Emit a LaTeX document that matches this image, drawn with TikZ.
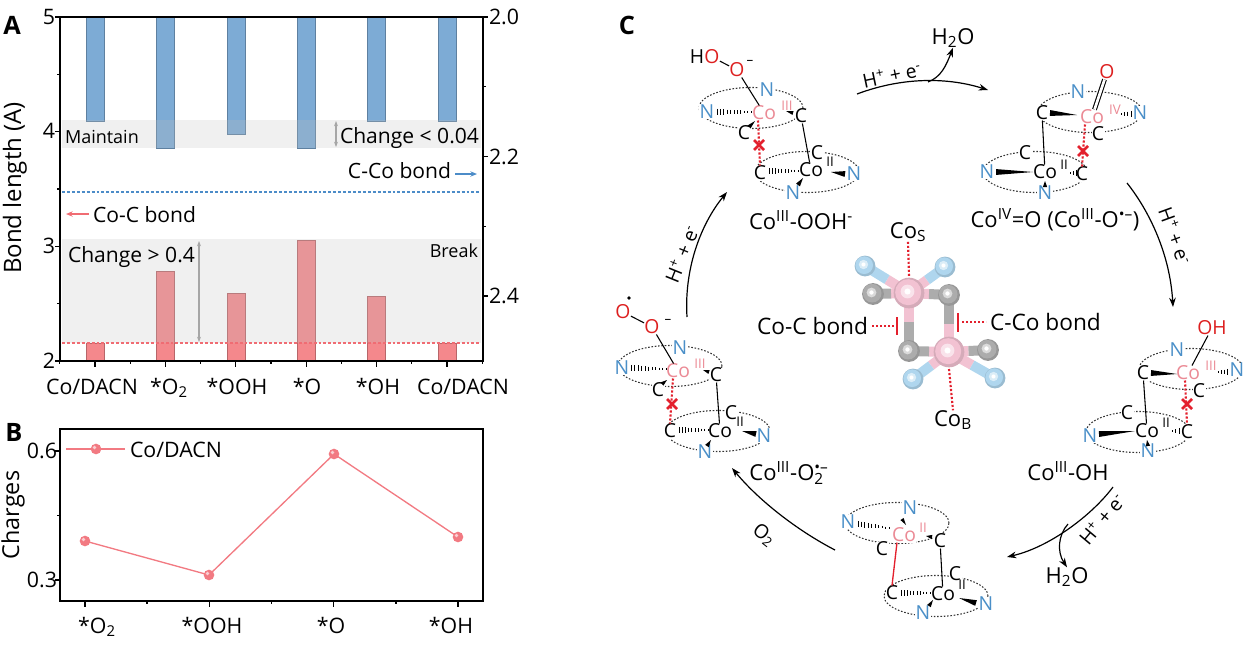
\documentclass[tikz,border=0pt]{standalone}
\usepackage{fontspec}
\setmainfont{Open Sans}
\usetikzlibrary{calc,arrows.meta}
\definecolor{barblue}{HTML}{7DABD5}
\definecolor{barred}{HTML}{F4888C}
\definecolor{dblue}{HTML}{4C8CC8}
\definecolor{dred}{HTML}{F06C73}
\definecolor{natom}{HTML}{4A8FC8}
\definecolor{coatom}{HTML}{EB8A95}
\definecolor{oatom}{HTML}{DD1F1F}
\definecolor{dotred}{HTML}{E3202D}
\definecolor{copink}{HTML}{F2C2D2}
\definecolor{cgray}{HTML}{ACACAC}
\definecolor{nblue}{HTML}{AFD6EE}
\definecolor{pline}{HTML}{F27A82}
\definecolor{arrgray}{HTML}{A6A6A6}
\newcommand\hwedge[4]{%
  \pgfmathtruncatemacro\nn{max(2,round(abs(#3-#1)/3.4))}%
  \foreach \ii in {0,...,\nn}{%
    \pgfmathsetmacro\hh{\ii/\nn}%
    \draw[line width=0.7pt] ({#1+(#3-#1)*\hh},{#2+(#4-#2)*\hh-0.8-2.4*\hh}) -- ({#1+(#3-#1)*\hh},{#2+(#4-#2)*\hh+0.8+2.4*\hh});}}
\newcommand\bwedge[3][2.2pt]{\fill ($(#2)!#1!90:(#3)$) -- ($(#2)!#1!-90:(#3)$) -- (#3) -- cycle;}
\newcommand\ringat[1]{\draw[ring] (#1) ellipse [x radius=39pt, y radius=15.4pt];}
\newcommand\xmk[1]{\draw[dotred,line width=2pt] ($(#1)+(-5,-5)$) -- ($(#1)+(5,5)$) ($(#1)+(-5,5)$) -- ($(#1)+(5,-5)$);}
\newcommand\pmk[1]{\fill[pline] (#1) circle (4pt); \fill[white,opacity=0.65] ($(#1)+(-1.5,-1.5)$) circle (1.4pt);}
\newcommand\sph[3]{\fill[#2!88!black] (#1) circle (#3);
  \fill[#2] ($(#1)+(-0.8,-0.8)$) circle ({#3*0.85});
  \fill[#2!45!white] ($(#1)+(-1.5,-1.5)$) circle ({#3*0.45});
  \fill[white] ($(#1)+(-1.5,-1.5)$) circle ({#3*0.2});}
\begin{document}
\begin{tikzpicture}[x=0.75pt,y=-0.75pt,
  txt/.style={inner sep=0pt,outer sep=0pt},
  ax/.style={txt,font=\fontsize{16}{19}\selectfont},
  ytl/.style={txt,font=\fontsize{18}{21}\selectfont},
  tk/.style={txt,font=\fontsize{16}{19}\selectfont},
  ann/.style={txt,font=\fontsize{15.8}{18}\selectfont},
  sml/.style={txt,font=\fontsize{13.5}{16}\selectfont},
  atom/.style={txt,fill=white,inner sep=0.3pt,font=\fontsize{14.5}{17}\selectfont},
  Nat/.style={atom,text=natom},
  Cat/.style={atom},
  Coat/.style={atom,text=coatom},
  Oat/.style={atom,text=oatom},
  sup/.style={txt,font=\fontsize{10}{12}\selectfont},
  supCo/.style={sup,text=coatom},
  lab/.style={txt,font=\fontsize{16.5}{19}\selectfont},
  arrlab/.style={txt,font=\fontsize{14.5}{17}\selectfont},
  panel/.style={txt,font=\bfseries\fontsize{19}{22}\selectfont},
  ring/.style={line width=0.8pt,black!80,dash pattern=on 1.2pt off 1.3pt},
  bond/.style={line width=0.8pt},
  rdot/.style={dotred,line width=1.6pt,dash pattern=on 1.6pt off 1.4pt},
  cyc/.style={line width=0.9pt,-{Stealth[length=7pt,width=5pt]}},
  stick/.style={line width=7.5pt}
]
\useasboundingbox (0,0) rectangle (1248,647);

% ================= Panel A =================
\foreach \i/\bb in {0/121,1/148,2/134,3/148,4/121,5/121}{
  \filldraw[fill=barblue,draw=barblue!75!black,line width=0.4pt] ({86+70.4*\i},17) rectangle ({104+70.4*\i},\bb);}
\foreach \i/\bb in {0/343,1/271,2/293,3/240,4/296,5/343}{
  \filldraw[fill=barred,draw=barred!75!black,line width=0.4pt] ({86+70.4*\i},361) rectangle ({104+70.4*\i},\bb);}
\fill[black!25,fill opacity=0.24] (62,120) rectangle (481,148);
\fill[black!25,fill opacity=0.24] (62,239) rectangle (481,343);
\draw[dblue,line width=1pt,dash pattern=on 2.2pt off 1.5pt] (62,192) -- (481,192);
\draw[dred,line width=1pt,dash pattern=on 2.2pt off 1.5pt] (62,343) -- (481,343);
\draw[line width=1pt] (60,17) rectangle (483,361);
\foreach \v in {2,3,4,5} \draw[line width=1pt] (60,{361-(\v-2)*114.67}) -- ++(-5,0);
\foreach \v in {2.5,3.5,4.5} \draw[line width=1pt] (60,{361-(\v-2)*114.67}) -- ++(-3,0);
\foreach \v in {0,1,2} \draw[line width=1pt] (483,{17+\v*139.5}) -- ++(5,0);
\foreach \v in {0.5,1.5} \draw[line width=1pt] (483,{17+\v*139.5}) -- ++(3,0);
\foreach \i in {0,...,5} \draw[line width=1pt] ({95+70.4*\i},361) -- ++(0,6);
\foreach \i in {0,...,6} \draw[line width=1pt] ({59.8+70.4*\i},361) -- ++(0,3);
\node[tk,anchor=east] (ta5) at (55,17) {5};
\node[tk,anchor=east] (ta4) at (55,131) {4};
\node[tk,anchor=east] (ta3) at (55,246) {3};
\node[tk,anchor=east] (ta2) at (55,361) {2};
\node[tk,anchor=west] (tb0) at (489,17) {2.0};
\node[tk,anchor=west] (tb2) at (489,157) {2.2};
\node[tk,anchor=west] (tb4) at (489,296) {2.4};
\node[ytl,rotate=90] (ylabA) at (15,188) {Bond length (A)};
\node[ax,anchor=base] (xa1) at (92,394) {Co/DACN};
\node[ax,anchor=base] (xa2) at (169,394) {*O\textsubscript{2}};
\node[ax,anchor=base] (xa3) at (237,394) {*OOH};
\node[ax,anchor=base] (xa4) at (307,394) {*O};
\node[ax,anchor=base] (xa5) at (378,394) {*OH};
\node[ax,anchor=base] (xa6) at (463,394) {Co/DACN};
\node[sml,anchor=base west] (mnt) at (65,143) {Maintain};
\node[ann,anchor=base west] (chg1) at (340,143) {Change < 0.04};
\node[ann,anchor=base east] (ccob) at (451,178) {C-Co bond};
\node[ann,anchor=base west] (cocb) at (93,222) {Co-C bond};
\node[ann,anchor=base west] (chg2) at (68,262) {Change > 0.4};
\node[sml,anchor=base east] (brk) at (478,257) {Break};
\coordinate (ga1) at (336,121); \coordinate (ga2) at (336,147);
\coordinate (gb1) at (199,241); \coordinate (gb2) at (199,342);
\draw[arrgray,line width=0.8pt,{Stealth[length=4pt,width=3pt]}-{Stealth[length=4pt,width=3pt]}] (ga1) -- (ga2);
\draw[arrgray,line width=0.8pt,{Stealth[length=4pt,width=3pt]}-{Stealth[length=4pt,width=3pt]}] (gb1) -- (gb2);
\coordinate (ba1) at (455,174); \coordinate (ba2) at (477,174);
\draw[dblue,line width=1.2pt,-{Stealth[length=5pt,width=4pt]}] (ba1) -- (ba2);
\coordinate (ra1) at (89,214); \coordinate (ra2) at (66,214);
\draw[dred,line width=1.2pt,-{Stealth[length=5pt,width=4pt]}] (ra1) -- (ra2);
\node[panel] (pA) at (12,25) {A};

% ================= Panel B =================
\draw[line width=1pt] (60,429) rectangle (483,601);
\draw[line width=1pt] (60,451) -- ++(-5,0) (60,580) -- ++(-5,0) (60,515.5) -- ++(-3,0);
\foreach \x in {85,209.3,333.7,458} \draw[line width=1pt] (\x,601) -- ++(0,6);
\foreach \x in {147,271.5,396} \draw[line width=1pt] (\x,601) -- ++(0,3);
\node[tk,anchor=east] (tc6) at (57,451) {0.6};
\node[tk,anchor=east] (tc3) at (57,580) {0.3};
\node[ytl,font=\fontsize{17.5}{20}\selectfont,rotate=90] (ylabB) at (13,515) {Charges};
\node[ax,anchor=base] (xb1) at (97,633) {*O\textsubscript{2}};
\node[ax,anchor=base] (xb2) at (212,633) {*OOH};
\node[ax,anchor=base] (xb3) at (331,633) {*O};
\node[ax,anchor=base] (xb4) at (451,633) {*OH};
\draw[pline,line width=1pt] (85,541) -- (209,575) -- (334,454) -- (458,537);
\pmk{85,541} \pmk{209,575} \pmk{334,454} \pmk{458,537}
\draw[pline,line width=1pt] (66,449) -- (125,449);
\pmk{96,449}
\node[ax,anchor=west] (legt) at (130,450) {Co/DACN};
\node[panel] (pB) at (14,432) {B};

% ================= Panel C =================
\node[panel] (pC) at (627,25) {C};

% ---- central molecule ----
\coordinate (mCoS) at (909,293); \coordinate (mCoB) at (949,352);
\coordinate (mC1) at (873,294); \coordinate (mC2) at (949,295);
\coordinate (mC3) at (909,351); \coordinate (mC4) at (988,350);
\coordinate (mN1) at (865,266); \coordinate (mN2) at (945,267);
\coordinate (mN3) at (913,379); \coordinate (mN4) at (995,378);
\foreach \a/\ca/\b/\cb in {mCoS/copink/mN1/nblue, mCoS/copink/mN2/nblue, mCoS/copink/mC1/cgray, mCoS/copink/mC2/cgray, mCoS/copink/mC3/cgray, mCoB/copink/mC2/cgray, mCoB/copink/mC3/cgray, mCoB/copink/mC4/cgray, mCoB/copink/mN3/nblue, mCoB/copink/mN4/nblue}{
  \draw[stick,\ca] (\a) -- ($(\a)!0.5!(\b)$);
  \draw[stick,\cb] ($(\a)!0.5!(\b)$) -- (\b);}
\foreach \p in {mN1,mN2,mN3,mN4}{\sph{\p}{nblue}{7.8pt}}
\foreach \p in {mC1,mC2,mC3,mC4}{\sph{\p}{cgray}{8.2pt}}
\foreach \p in {mCoS,mCoB}{\sph{\p}{copink}{11.5pt}}
\node[lab] (coS) at (908,232) {Co\textsubscript{S}};
\node[lab] (coB) at (953,420) {Co\textsubscript{B}};
\draw[rdot] (coS.south) -- ($(mCoS)+(0,-16)$);
\draw[rdot] ($(mCoB)+(0,17)$) -- (coB.north);
\draw[dotred,line width=2pt] (897,317) -- (897,335);
\draw[dotred,line width=2pt] (958,313) -- (958,332);
\node[txt,font=\fontsize{17}{20}\selectfont,anchor=east] (lcoc) at (868,326) {Co-C bond};
\node[txt,font=\fontsize{17}{20}\selectfont,anchor=west] (lcco) at (990,322) {C-Co bond};
\draw[rdot] (lcoc.east) ++(4,0) -- (894,326);
\draw[rdot] (962,322) -- ($(lcco.west)+(-4,0)$);

% ---- cycle arrows ----
\coordinate (a1s) at (857,94); \coordinate (a1e) at (988,90); \coordinate (a1b) at (928,82);
\node[lab] (h2oA) at (953,38) {H\textsubscript{2}O};
\draw[cyc] (a1s) .. controls (905,76) and (950,78) .. (a1e);
\draw[cyc] (a1b) .. controls (941,77) and (946,66) .. (h2oA.south);
\node[arrlab,rotate=12] (lab1) at (892,75) {H\textsuperscript{+} + e\textsuperscript{-}};
\coordinate (a2s) at (1127,183); \coordinate (a2e) at (1173,307);
\draw[cyc] (a2s) .. controls (1150,212) and (1170,255) .. (a2e);
\node[arrlab,rotate=-70] (lab2) at (1175,236) {H\textsuperscript{+} + e\textsuperscript{-}};
\coordinate (a3s) at (1113,487); \coordinate (a3e) at (1007,557); \coordinate (a3b) at (1068,524);
\node[lab] (h2oB) at (1067,577) {H\textsubscript{2}O};
\draw[cyc] (a3s) .. controls (1092,515) and (1050,547) .. (a3e);
\draw[cyc] (a3b) .. controls (1058,535) and (1057,552) .. (h2oB.north);
\node[arrlab,rotate=50] (lab3) at (1102,519) {H\textsuperscript{+} + e\textsuperscript{-}};
\coordinate (a4s) at (835,550); \coordinate (a4e) at (732,468);
\draw[cyc] (a4s) .. controls (800,532) and (760,502) .. (a4e);
\node[arrlab,rotate=-38] (lab4) at (764,535) {O\textsubscript{2}};
\coordinate (a5s) at (687,317); \coordinate (a5e) at (727,192);
\draw[cyc] (a5s) .. controls (684,270) and (700,225) .. (a5e);
\node[arrlab,rotate=68] (lab5) at (682,254) {H\textsuperscript{+} + e\textsuperscript{-}};

% ---- S1: Co(III)-OOH ----
\ringat{751,108} \ringat{807,172}
\node[Cat] (s1H) at (697,57) {H};
\node[Oat] (s1O1) at (712,57) {O};
\node[Oat] (s1O2) at (737,70) {O};
\node[sup] (s1m) at (750,62) {–};
\node[Nat] (s1Nl) at (707,112) {N};
\node[Nat] (s1Nt) at (767,90) {N};
\node[Coat] (s1Co) at (764,113) {Co};
\node[supCo] (s1s) at (787,106) {III};
\node[Cat] (s1Cr) at (801,116) {C};
\node[Cat] (s1Cf) at (744,133) {C};
\node[Cat] (s1Cl2) at (760,173) {C};
\node[Cat] (s1Cb2) at (817,153) {C};
\node[Cat] (s1Co2) at (811,170) {Co};
\node[sup] (s1s2) at (830,162) {II};
\node[Nat] (s1Nr2) at (854,174) {N};
\node[Nat] (s1Nb2) at (793,193) {N};
\draw[bond] (s1O1) -- (s1O2);
\draw[bond] (s1O2) -- (s1Co);
\draw[bond] (s1Cr) -- (s1Co2);
\draw[rdot] ($(s1Co.south)+(-6,0)$) -- (s1Cl2.north);
\xmk{759,145}
\hwedge{751}{112}{717}{112}
\bwedge[1.5pt]{793,113}{786,111}
\bwedge[1.6pt]{749,127}{755,121}
\hwedge{798}{171}{769}{171}
\bwedge{845,174}{831,172}
\bwedge[1.8pt]{798,185}{803,178}
\node[lab] (s1lab) at (801,220) {Co\textsuperscript{III}-OOH\textsuperscript{-}};

% ---- S2: Co(IV)=O ----
\ringat{1090,112} \ringat{1035,172}
\node[Oat] (s2O) at (1107,72) {O};
\node[Nat] (s2Nt) at (1078,92) {N};
\node[Cat] (s2Cl) at (1042,113) {C};
\node[Coat] (s2Co) at (1092,117) {Co};
\node[supCo] (s2s) at (1115,110) {IV};
\node[Nat] (s2Nr) at (1140,113) {N};
\node[Cat] (s2Cf) at (1098,134) {C};
\node[Cat] (s2Cb2) at (1025,153) {C};
\node[Nat] (s2Nl2) at (987,172) {N};
\node[Cat] (s2Co2) at (1045,172) {Co};
\node[sup] (s2s2) at (1064,165) {II};
\node[Cat] (s2Cr2) at (1082,174) {C};
\node[Nat] (s2Nb2) at (1045,193) {N};
\draw[line width=0.8pt,double=white,double distance=2pt] (s2O) -- (s2Co);
\draw[bond] (s2Cl) -- (s2Co2);
\draw[rdot] ($(s2Co.south)+(-7,0)$) -- (s2Cr2.north);
\xmk{1083,151}
\bwedge{1050,113}{1077,115}
\hwedge{1121}{114}{1131}{114}
\hwedge{1070}{173}{1076}{173}
\bwedge{996,172}{1033,172}
\bwedge[1.6pt]{1045,187}{1045,181}
\node[lab] (s2lab) at (1055,220) {Co\textsuperscript{IV}=O (Co\textsuperscript{III}-O\textsuperscript{•–})};

% ---- S3: Co(III)-OH ----
\ringat{1191,369} \ringat{1138,432}
\node[Oat] (s3O) at (1212,328) {OH};
\node[Nat] (s3Nt) at (1177,350) {N};
\node[Cat] (s3Cl) at (1143,373) {C};
\node[Coat] (s3Co) at (1188,373) {Co};
\node[supCo] (s3s) at (1211,366) {III};
\node[Nat] (s3Nr) at (1237,370) {N};
\node[Cat] (s3Cf) at (1199,391) {C};
\node[Cat] (s3Cb2) at (1127,413) {C};
\node[Nat] (s3Nl2) at (1090,436) {N};
\node[Cat] (s3Co2) at (1147,431) {Co};
\node[sup] (s3s2) at (1166,423) {II};
\node[Cat] (s3Cr2) at (1187,432) {C};
\node[Nat] (s3Nb2) at (1148,451) {N};
\draw[bond] (s3O) -- (s3Co);
\draw[bond] (s3Cl) -- (s3Co2);
\draw[rdot] ($(s3Co.south)+(-3,0)$) -- (s3Cr2.north);
\xmk{1187,404}
\bwedge{1151,373}{1177,374}
\hwedge{1218}{372}{1227}{372}
\bwedge{1099,434}{1135,431}
\hwedge{1172}{431}{1179}{431}
\bwedge[1.6pt]{1148,446}{1147,440}
\node[lab] (s3lab) at (1068,471) {Co\textsuperscript{III}-OH};

% ---- S4: Co(II) ----
\ringat{897,523} \ringat{936,596}
\node[Nat] (s4Nt) at (910,508) {N};
\node[Nat] (s4Nl) at (848,522) {N};
\node[Coat] (s4Co) at (904,535) {Co};
\node[supCo] (s4s) at (923,528) {II};
\node[Cat] (s4Cr) at (940,541) {C};
\node[Cat] (s4Cl) at (882,549) {C};
\node[Cat] (s4Cl2) at (892,593) {C};
\node[Cat] (s4Co2) at (943,594) {Co};
\node[Cat] (s4Cb2) at (955,574) {C};
\node[sup] (s4s2) at (962,585) {II};
\node[Nat] (s4Nr2) at (986,604) {N};
\node[Nat] (s4Nb2) at (923,613) {N};
\draw[dotred,line width=1pt] ($(s4Co.south)+(-7,0)$) -- (s4Cl2.north);
\draw[bond] (s4Cr) -- (s4Co2);
\hwedge{889}{528}{858}{524}
\bwedge[1.4pt]{902,519}{906,525}
\bwedge[1.6pt]{932,537}{926,536}
\hwedge{930}{593}{901}{593}
\bwedge{976,603}{959,598}
\bwedge[1.6pt]{929,606}{933,600}

% ---- S5: Co(III)-O2 ----
\ringat{670,366} \ringat{718,431}
\node[Oat] (s5O1) at (623,312) {O};
\node[Oat] (s5O2) at (652,327) {O};
\node[sup] (s5m) at (668,321) {–};
\node[Nat] (s5Nt) at (680,348) {N};
\node[Nat] (s5Nl) at (622,368) {N};
\node[Coat] (s5Co) at (678,371) {Co};
\node[supCo] (s5s) at (700,364) {III};
\node[Cat] (s5Cr) at (716,375) {C};
\node[Cat] (s5Cf) at (658,390) {C};
\node[Cat] (s5Cl2) at (670,431) {C};
\node[Cat] (s5Co2) at (720,431) {Co};
\node[Cat] (s5Cb2) at (731,413) {C};
\node[sup] (s5s2) at (740,422) {II};
\node[Nat] (s5Nr2) at (764,436) {N};
\node[Nat] (s5Nb2) at (705,452) {N};
\fill (629,298) circle (1.4pt);
\draw[bond] (s5O1) -- (s5O2);
\draw[bond] (s5O2) -- (s5Co);
\draw[bond] (s5Cr) -- (s5Co2);
\draw[rdot] ($(s5Co.south)+(-5,0)$) -- (s5Cl2.north);
\xmk{672,404}
\hwedge{666}{369}{631}{368}
\bwedge[1.5pt]{709,372}{703,370}
\bwedge[1.6pt]{662,384}{667,380}
\hwedge{708}{430}{679}{430}
\bwedge{756,434}{742,431}
\bwedge[1.6pt]{707,446}{711,440}
\node[lab] (s5lab) at (789,473) {Co\textsuperscript{III}-O\rlap{\textsubscript{2}}\textsuperscript{•–}};
\end{tikzpicture}
\end{document}
